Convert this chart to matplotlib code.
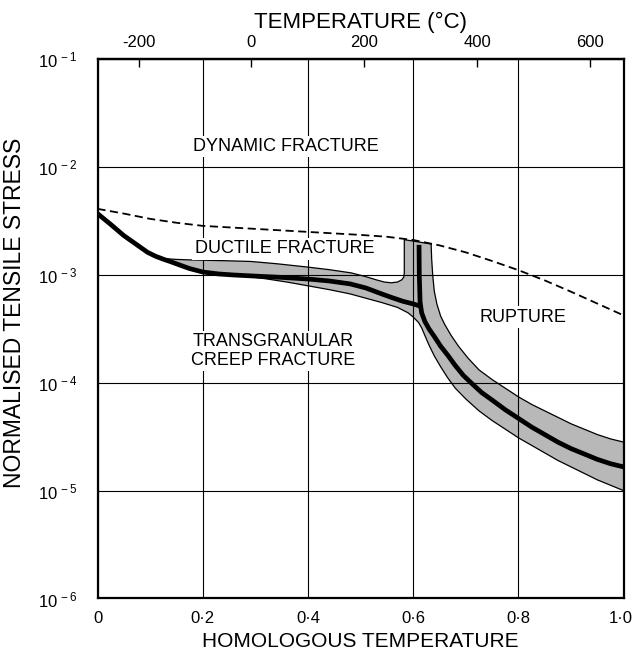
import numpy as np
import matplotlib
matplotlib.use('Agg')
import matplotlib.pyplot as plt
import matplotlib.transforms as mtrans

plt.rcParams['font.family'] = ['Liberation Sans', 'DejaVu Sans']
plt.rcParams['mathtext.default'] = 'regular'
plt.rcParams['axes.unicode_minus'] = False

T_MELT = 933.0  # K, aluminium

# all stresses below are log10(normalised tensile stress)

# dashed boundary (dynamic fracture / ductile fracture)
dash_x = [0.0, 0.05, 0.1, 0.15, 0.2, 0.3, 0.4, 0.5, 0.55, 0.6, 0.65, 0.7, 0.75, 0.8, 0.85, 0.9, 0.95, 1.0]
dash_log = [-2.386, -2.43, -2.479, -2.515, -2.544, -2.572, -2.60, -2.628, -2.645, -2.675, -2.725,
            -2.79, -2.87, -2.955, -3.05, -3.155, -3.265, -3.375]

# thick line, low temperature part
low_x = [0.0, 0.025, 0.05, 0.075, 0.095, 0.11, 0.125, 0.14, 0.155, 0.175, 0.2, 0.23, 0.26, 0.3,
         0.35, 0.4, 0.44, 0.48, 0.51, 0.54, 0.56, 0.58, 0.6, 0.613]
low_log = [-2.43, -2.53, -2.634, -2.72, -2.789, -2.825, -2.853, -2.878, -2.905, -2.94, -2.972, -2.99,
           -3.0, -3.01, -3.022, -3.037, -3.055, -3.082, -3.12, -3.175, -3.21, -3.243, -3.268, -3.288]

# thick line, rupture boundary
rup_x = [0.611, 0.6115, 0.613, 0.616, 0.622, 0.63, 0.64, 0.652, 0.665, 0.68, 0.695, 0.71, 0.73,
         0.75, 0.775, 0.8, 0.825, 0.85, 0.875, 0.9, 0.925, 0.95, 0.975, 1.0]
rup_log = [-2.72, -3.0, -3.25, -3.35, -3.43, -3.5, -3.57, -3.66, -3.74, -3.84, -3.93, -4.0, -4.09,
           -4.16, -4.25, -4.33, -4.41, -4.48, -4.55, -4.61, -4.66, -4.71, -4.75, -4.78]

# upper edge of the scatter band, then up the left side of the column
up_x = [0.128, 0.15, 0.177, 0.24, 0.291, 0.34, 0.399, 0.44, 0.482, 0.51, 0.53, 0.545, 0.558,
        0.57, 0.578, 0.582, 0.583, 0.583]
up_log = [-2.848, -2.855, -2.86, -2.867, -2.874, -2.895, -2.926, -2.95, -2.98, -3.015, -3.045,
          -3.065, -3.072, -3.065, -3.045, -3.02, -2.98, -2.672]

# right edge of the rupture band
right_x = [0.634, 0.635, 0.637, 0.64, 0.645, 0.652, 0.66, 0.672, 0.686, 0.704, 0.725, 0.75, 0.775,
           0.8, 0.825, 0.85, 0.875, 0.9, 0.925, 0.95, 0.975, 1.0]
right_log = [-2.712, -2.85, -3.0, -3.15, -3.27, -3.38, -3.46, -3.56, -3.66, -3.77, -3.88, -3.97,
             -4.05, -4.13, -4.2, -4.26, -4.32, -4.38, -4.43, -4.48, -4.52, -4.55]

# lower edge of the band, from x = 1 back to the left
lowedge_x = [1.0, 0.975, 0.95, 0.925, 0.9, 0.875, 0.85, 0.825, 0.8, 0.775, 0.75, 0.725, 0.7, 0.68,
             0.665, 0.652, 0.64, 0.63, 0.622, 0.616, 0.61, 0.6, 0.59, 0.57, 0.54, 0.51, 0.48, 0.44,
             0.4, 0.36, 0.32, 0.28, 0.24, 0.2]
lowedge_log = [-5.0, -4.95, -4.9, -4.84, -4.78, -4.72, -4.65, -4.58, -4.51, -4.43, -4.35, -4.26,
               -4.15, -4.05, -3.95, -3.85, -3.75, -3.65, -3.56, -3.49, -3.44, -3.39, -3.35, -3.3,
               -3.255, -3.215, -3.175, -3.135, -3.1, -3.065, -3.035, -3.01, -2.995, -2.978]

x_ticks = [0, 0.2, 0.4, 0.6, 0.8, 1.0]
x_labels = ['0', '0·2', '0·4', '0·6', '0·8', '1·0']
y_ticks = [1e-6, 1e-5, 1e-4, 1e-3, 1e-2, 1e-1]
y_labels = ['$10^{\\,-6}$', '$10^{\\,-5}$', '$10^{\\,-4}$', '$10^{\\,-3}$', '$10^{\\,-2}$', '$10^{\\,-1}$']
t_ticks = [-200, 0, 200, 400, 600]
t_labels = ['-200', '0', '200', '400', '600']

regions = ['DYNAMIC FRACTURE', 'DUCTILE FRACTURE', 'TRANSGRANULAR\nCREEP FRACTURE', 'RUPTURE']
region_x = [0.358, 0.355, 0.333, 0.809]
region_log = [-1.81, -2.758, -3.707, -3.39]


def s(v):
    return 10.0 ** np.asarray(v)


fig = plt.figure(figsize=(6.34, 6.55), dpi=100)
ax = fig.add_axes([0.1538, 0.0863, 0.830, 0.823])
ax.set_yscale('log')
ax.set_xlim(0, 1)
ax.set_ylim(1e-6, 1e-1)

# shaded scatter band as one polygon
k = [i for i in range(len(low_x)) if 0.125 <= low_x[i] <= 0.2]
poly_x = up_x + right_x + lowedge_x + [low_x[i] for i in reversed(k)]
poly_log = up_log + right_log + lowedge_log + [low_log[i] for i in reversed(k)]
ax.fill(poly_x, s(poly_log), facecolor='0.72', edgecolor='none', zorder=1)

# band edges
ax.plot(up_x + right_x[:1], s(up_log + right_log[:1]), color='k', lw=0.9, zorder=3)
ax.plot(right_x, s(right_log), color='k', lw=0.9, zorder=3)
ax.plot(lowedge_x, s(lowedge_log), color='k', lw=0.9, zorder=3)

# thick boundaries
ax.plot(low_x, s(low_log), color='k', lw=3.4, solid_capstyle='butt', solid_joinstyle='round', zorder=4)
ax.plot(rup_x, s(rup_log), color='k', lw=3.4, solid_capstyle='butt', solid_joinstyle='round', zorder=4)

# dashed boundary
ax.plot(dash_x, s(dash_log), color='k', lw=1.3, dashes=(4.5, 2.5), zorder=3)

ax.set_axisbelow(False)
ax.grid(True, which='major', color='k', lw=0.8)
ax.minorticks_off()
ax.set_xticks(x_ticks)
ax.set_xticklabels(x_labels)
ax.set_yticks(y_ticks)
ax.set_yticklabels(y_labels)
ax.tick_params(axis='x', length=0, labelsize=12, pad=9)
ax.tick_params(axis='y', length=0, labelsize=12, pad=14)
last = ax.get_xticklabels()[-1]
last.set_transform(last.get_transform() + mtrans.ScaledTranslation(-3 / 100, 0, fig.dpi_scale_trans))
for sp in ax.spines.values():
    sp.set_linewidth(1.6)

ax.set_xlabel('HOMOLOGOUS TEMPERATURE', fontsize=15, labelpad=4)
ax.set_ylabel('NORMALISED TENSILE STRESS', fontsize=16.5)
ax.yaxis.set_label_coords(-0.135, 0.53)

top = ax.secondary_xaxis('top', functions=(lambda h: h * T_MELT - 273.0,
                                           lambda t: (t + 273.0) / T_MELT))
top.set_xticks(t_ticks)
top.set_xticklabels(t_labels)
top.tick_params(direction='in', length=6, width=1, labelsize=12, pad=7)
top.spines['top'].set_linewidth(1.6)
top.set_xlabel('TEMPERATURE (°C)', fontsize=16, labelpad=5)

for lab, xx, ll in zip(regions, region_x, region_log):
    ax.text(xx, 10.0 ** ll, lab, ha='center', va='center', fontsize=13, linespacing=1.15,
            bbox=dict(facecolor='white', edgecolor='none', pad=1.5), zorder=5)

fig.savefig('out.png', dpi=100)
